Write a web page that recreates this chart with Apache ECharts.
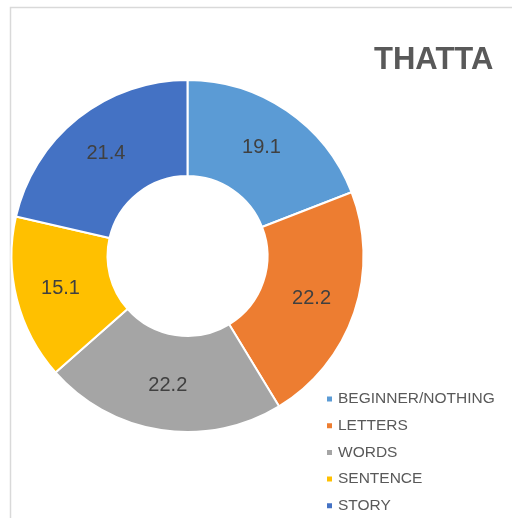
<!DOCTYPE html>
<html>
<head>
<meta charset="utf-8">
<script src="https://cdn.jsdelivr.net/npm/echarts@6/dist/echarts.min.js"></script>
<style>
  html, body { margin: 0; padding: 0; background: #ffffff; }
  #chart { width: 512px; height: 518px; }
</style>
</head>
<body>
<div id="chart"></div>
<script>
// Reading levels in Thatta (percent of learners)
const categories = ['BEGINNER/NOTHING', 'LETTERS', 'WORDS', 'SENTENCE', 'STORY'];
const values = [19.1, 22.2, 22.2, 15.1, 21.4];
const colors = ['#5B9BD5', '#ED7D31', '#A5A5A5', '#FFC000', '#4472C4'];
const chartTitle = 'THATTA';

const font = 'Liberation Sans, Arial, sans-serif';

const chart = echarts.init(document.getElementById('chart'), null, { renderer: 'canvas' });

chart.setOption({
  animation: false,
  backgroundColor: '#ffffff',
  color: colors,
  title: {
    text: chartTitle,
    left: 374,
    top: 45,
    padding: 0,
    textStyle: { fontFamily: font, fontSize: 31, fontWeight: 'bold', color: '#595959' }
  },
  legend: {
    orient: 'vertical',
    left: 325,
    top: 391,
    padding: 0,
    icon: 'rect',
    itemWidth: 7,
    itemHeight: 7,
    itemGap: 10.7,
    selectedMode: false,
    data: categories,
    textStyle: { fontFamily: font, fontSize: 15.5, color: '#595959', lineHeight: 16 }
  },
  graphic: [{
    type: 'rect',
    silent: true,
    shape: { x: 10.5, y: 7.5, width: 700, height: 700 },
    style: { fill: 'none', stroke: '#d9d9d9', lineWidth: 1.5 }
  }],
  series: [{
    type: 'pie',
    center: [187.5, 256],
    radius: [80, 176],
    startAngle: 90,
    clockwise: true,
    avoidLabelOverlap: false,
    emphasis: { disabled: true },
    itemStyle: { borderColor: '#ffffff', borderWidth: 2 },
    label: {
      show: true,
      position: 'inside',
      formatter: p => p.value.toFixed(1),
      fontFamily: font,
      fontSize: 20,
      color: '#404040'
    },
    labelLine: { show: false },
    data: categories.map((name, i) => ({ name, value: values[i] }))
  }]
});
</script>
</body>
</html>
